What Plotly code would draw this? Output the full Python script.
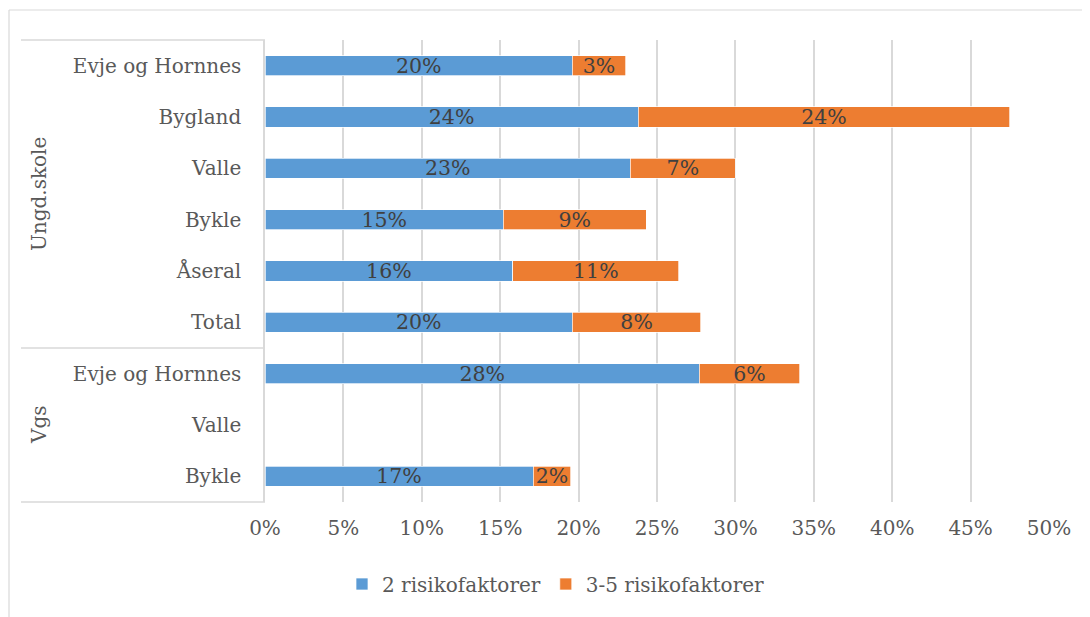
import plotly.graph_objects as go

# Data (shares, 0-1)
groups = ["Ungd.skole"] * 6 + ["Vgs"] * 3
schools = ["Evje og Hornnes", "Bygland", "Valle", "Bykle", "Åseral", "Total",
           "Evje og Hornnes", "Valle", "Bykle"]
two_factors = [0.196, 0.238, 0.233, 0.152, 0.158, 0.196, 0.277, None, 0.171]
three_five_factors = [0.034, 0.237, 0.067, 0.091, 0.106, 0.082, 0.064, None, 0.024]
x_ticks = [0, 0.05, 0.10, 0.15, 0.20, 0.25, 0.30, 0.35, 0.40, 0.45, 0.50]

BLUE = "#5B9BD5"
ORANGE = "#ED7D31"
GRID = "#D9D9D9"
TEXT = "#595959"
FONT = "DejaVu Serif"

# page has an 8px body margin, so the figure is drawn 8px in from the window
OFF = 8
W, H = 1090 - OFF, 617 - OFF
PL, PR, PT, PB = 265, 1049, 40, 502   # plot area in window pixels


def px_x(x):
    return (x - PL) / (PR - PL)


def px_y(y):
    return (PB - y) / (PB - PT)


# unique keys so duplicate school names in both groups stay separate rows
keys = [f"{g}|{s}" for g, s in zip(groups, schools)]

fig = go.Figure()
for name, vals, color in [("2 risikofaktorer", two_factors, BLUE),
                          ("3-5 risikofaktorer", three_five_factors, ORANGE)]:
    fig.add_trace(go.Bar(
        y=keys, x=vals, name=name, orientation="h",
        marker=dict(color=color, line=dict(color="white", width=0.7)),
        texttemplate="%{x:.0%}", textposition="inside", insidetextanchor="middle",
        constraintext="none",
        textfont=dict(family=FONT, size=20.5, color="#404040"),
        hoverinfo="skip",
    ))

# group box lines on the category side
box_left = px_x(21)
sep = 3 / 9
shapes = []
for yv in (1, sep, 0):
    shapes.append(dict(type="line", xref="paper", yref="paper", x0=box_left, x1=0,
                       y0=yv, y1=yv, line=dict(color=GRID, width=1.5)))

# outer chart frame (only top and left edges are inside the picture)
fx, fy = px_x(9), px_y(10)
shapes.append(dict(type="line", xref="paper", yref="paper", x0=fx, x1=1.2,
                   y0=fy, y1=fy, line=dict(color=GRID, width=1.2)))
shapes.append(dict(type="line", xref="paper", yref="paper", x0=fx, x1=fx,
                   y0=-0.3, y1=fy, line=dict(color=GRID, width=1.2)))

group_x = px_x(39)
annotations = [
    dict(text=g, xref="paper", yref="paper", x=group_x, y=yc,
         xanchor="center", yanchor="middle", textangle=-90, showarrow=False,
         font=dict(family=FONT, size=20, color=TEXT))
    for g, yc in [("Ungd.skole", (1 + sep) / 2), ("Vgs", sep / 2)]
]

fig.update_layout(
    barmode="stack",
    bargap=0.61,
    width=W, height=H,
    margin=dict(l=PL - OFF, r=W - (PR - OFF), t=PT - OFF, b=H - (PB - OFF)),
    paper_bgcolor="white", plot_bgcolor="white",
    font=dict(family=FONT, size=20, color=TEXT),
    shapes=shapes,
    annotations=annotations,
    legend=dict(orientation="h", xref="container", yref="container",
                x=(556 - OFF) / W, y=1 - (584 - OFF) / H,
                xanchor="center", yanchor="middle",
                font=dict(family=FONT, size=20, color=TEXT), traceorder="normal"),
)
fig.update_xaxes(
    range=[0, 0.5], tickvals=x_ticks, tickformat=".0%",
    showgrid=True, gridcolor=GRID, gridwidth=1.5, zeroline=False,
    showline=False, ticks="", ticklabelstandoff=12,
    tickfont=dict(family=FONT, size=20, color=TEXT),
)
fig.update_yaxes(
    type="category", categoryorder="array", categoryarray=keys,
    autorange="reversed", tickvals=keys, ticktext=schools,
    showline=True, linecolor=GRID, linewidth=1.5, showgrid=False,
    ticks="", ticklabelstandoff=18, automargin=False,
    tickfont=dict(family=FONT, size=20, color=TEXT),
)

fig.write_html("out.html")
